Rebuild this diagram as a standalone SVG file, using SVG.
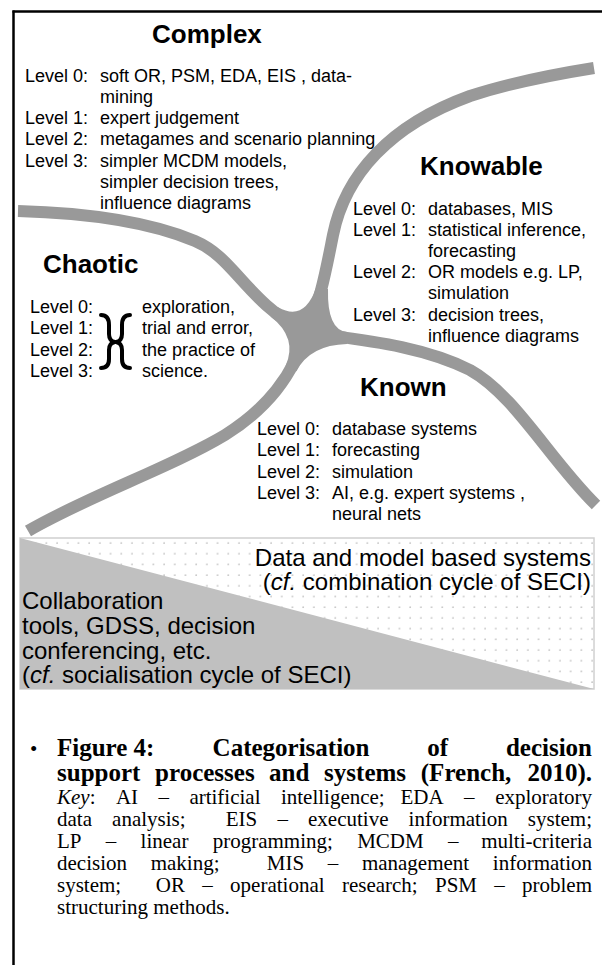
<svg xmlns="http://www.w3.org/2000/svg" width="602" height="965" viewBox="0 0 602 965">
  <style>
    .lvl { font-family: "Liberation Sans", Arial, sans-serif; font-size: 18px; fill: #000; }
    .head { font-family: "Liberation Sans", Arial, sans-serif; font-size: 26px; font-weight: bold; fill: #000; }
    .band { font-family: "Liberation Sans", Arial, sans-serif; font-size: 24px; fill: #000; }
    .cap { font-family: "Liberation Serif", "Times New Roman", serif; font-size: 21px; fill: #000; }
    .capb { font-family: "Liberation Serif", "Times New Roman", serif; font-size: 25px; font-weight: bold; fill: #000; }
    .curve { fill: none; stroke: #999999; stroke-width: 12; stroke-linecap: butt; }
    .brace { fill: none; stroke: #000; stroke-width: 4; stroke-linecap: round; stroke-linejoin: round; }
  </style>
  <defs>
    <pattern id="dots" x="20" y="538" width="10.7" height="10.7" patternUnits="userSpaceOnUse">
      <circle cx="5" cy="5" r="0.9" fill="#c4c4c4"/>
    </pattern>
  </defs>

  <rect width="602" height="965" fill="#ffffff"/>

  <!-- page frame: top and left rules -->
  <g id="frame" stroke="#000" stroke-width="2.5" fill="none">
    <line x1="12.5" y1="11.5" x2="602" y2="11.5"/>
    <line x1="13.5" y1="10.5" x2="13.5" y2="965"/>
  </g>

  <!-- the four boundaries between the domains -->
  <g id="connectors">
    <path class="curve" d="M18,211 C90,213 150,222 195,241 C235,258 245,300 305,332"/>
    <path class="curve" d="M305,332 C320,305 326,270 333,235 C345,175 390,125 470,96 C510,83 550,75 594,68"/>
    <path class="curve" d="M305,332 C360,340 420,345 470,370 C515,395 550,460 596,505"/>
    <path class="curve" d="M305,332 C295,375 265,410 225,435 C170,468 90,495 28,531"/>
  </g>

  <!-- central junction where the boundaries meet -->
  <g id="hub">
    <path fill="#999999" d="M316,288 L328,289 Q327,330 347,332 L347,344 Q310,345 296.4,371.2 L285.6,365.8 Q298,338 270.6,316.6 L278.2,307.2 Q304,322 316,288 Z"/>
  </g>

  <g id="complex">
    <text class="head" x="152" y="43">Complex</text>
    <text class="lvl" x="25" y="81.5">Level 0:</text>
    <text class="lvl" x="100" y="81.5">soft OR, PSM, EDA, EIS , data-</text>
    <text class="lvl" x="100" y="102.75">mining</text>
    <text class="lvl" x="25" y="124">Level 1:</text>
    <text class="lvl" x="100" y="124">expert judgement</text>
    <text class="lvl" x="25" y="145.25">Level 2:</text>
    <text class="lvl" x="100" y="145.25">metagames and scenario planning</text>
    <text class="lvl" x="25" y="166.5">Level 3:</text>
    <text class="lvl" x="100" y="166.5">simpler MCDM models,</text>
    <text class="lvl" x="100" y="187.75">simpler decision trees,</text>
    <text class="lvl" x="100" y="209">influence diagrams</text>
  </g>

  <g id="knowable">
    <text class="head" x="420" y="175">Knowable</text>
    <text class="lvl" x="353" y="214.5">Level 0:</text>
    <text class="lvl" x="428" y="214.5">databases, MIS</text>
    <text class="lvl" x="353" y="235.7">Level 1:</text>
    <text class="lvl" x="428" y="235.7">statistical inference,</text>
    <text class="lvl" x="428" y="256.9">forecasting</text>
    <text class="lvl" x="353" y="278.1">Level 2:</text>
    <text class="lvl" x="428" y="278.1">OR models e.g. LP,</text>
    <text class="lvl" x="428" y="299.3">simulation</text>
    <text class="lvl" x="353" y="320.5">Level 3:</text>
    <text class="lvl" x="428" y="320.5">decision trees,</text>
    <text class="lvl" x="428" y="341.7">influence diagrams</text>
  </g>

  <g id="chaotic">
    <text class="head" x="43" y="273">Chaotic</text>
    <text class="lvl" x="30" y="313">Level 0:</text>
    <text class="lvl" x="30" y="334.3">Level 1:</text>
    <text class="lvl" x="30" y="355.6">Level 2:</text>
    <text class="lvl" x="30" y="377">Level 3:</text>
    <path class="brace" d="M101,315 Q109,315 109,325 L109,334 Q109,341 115,342 Q109,343 109,350 L109,359 Q109,368 101,368"/>
    <path class="brace" d="M130,315 Q122,315 122,325 L122,334 Q122,341 116,342 Q122,343 122,350 L122,359 Q122,368 130,368"/>
    <text class="lvl" x="142" y="313">exploration,</text>
    <text class="lvl" x="142" y="334.3">trial and error,</text>
    <text class="lvl" x="142" y="355.6">the practice of</text>
    <text class="lvl" x="142" y="377">science.</text>
  </g>

  <g id="known">
    <text class="head" x="360" y="396">Known</text>
    <text class="lvl" x="257" y="435">Level 0:</text>
    <text class="lvl" x="332" y="435">database systems</text>
    <text class="lvl" x="257" y="456.25">Level 1:</text>
    <text class="lvl" x="332" y="456.25">forecasting</text>
    <text class="lvl" x="257" y="477.5">Level 2:</text>
    <text class="lvl" x="332" y="477.5">simulation</text>
    <text class="lvl" x="257" y="498.75">Level 3:</text>
    <text class="lvl" x="332" y="498.75">AI, e.g. expert systems ,</text>
    <text class="lvl" x="332" y="520">neural nets</text>
  </g>

  <!-- band of support systems: data/model based vs collaboration -->
  <g id="systems-band">
    <rect x="20" y="538" width="574" height="151" fill="#ffffff" stroke="#d0d0d0" stroke-width="1.5"/>
    <rect x="21" y="539" width="572" height="149" fill="url(#dots)"/>
    <polygon points="20,538 20,689 594,689" fill="#c0c0c0"/>
    <text class="band" x="591" y="565.5" text-anchor="end">Data and model based systems</text>
    <text class="band" x="591" y="589.5" text-anchor="end">(<tspan font-style="italic">cf.</tspan> combination cycle of SECI)</text>
    <text class="band" x="22" y="608.5">Collaboration</text>
    <text class="band" x="22" y="633.5">tools, GDSS, decision</text>
    <text class="band" x="22" y="658.5">conferencing, etc.</text>
    <text class="band" x="22" y="682.5">(<tspan font-style="italic">cf.</tspan> socialisation cycle of SECI)</text>
  </g>

  <g id="caption">
    <text class="cap" x="30" y="756">•</text>
    <text class="capb" y="756"><tspan x="57">Figure 4:</tspan><tspan x="212.6">Categorisation</tspan><tspan x="427.2">of</tspan><tspan x="592" text-anchor="end">decision</tspan></text>
    <text class="capb" y="781"><tspan x="57">support</tspan><tspan x="155.1">processes</tspan><tspan x="269">and</tspan><tspan x="324.1">systems</tspan><tspan x="420.8">(French,</tspan><tspan x="592" text-anchor="end">2010).</tspan></text>
    <text class="cap" y="804"><tspan x="57" font-style="italic">Key</tspan><tspan>:</tspan><tspan x="115.9">AI</tspan><tspan x="158.5">–</tspan><tspan x="189.4">artificial</tspan><tspan x="280.9">intelligence;</tspan><tspan x="400.5">EDA</tspan><tspan x="464.1">–</tspan><tspan x="592" text-anchor="end">exploratory</tspan></text>
    <text class="cap" y="826"><tspan x="57">data</tspan><tspan x="112.1">analysis;</tspan><tspan x="225.8">EIS</tspan><tspan x="277.4">–</tspan><tspan x="308">executive</tspan><tspan x="408.6">information</tspan><tspan x="592" text-anchor="end">system;</tspan></text>
    <text class="cap" y="848"><tspan x="57">LP</tspan><tspan x="105.8">–</tspan><tspan x="140.6">linear</tspan><tspan x="212.7">programming;</tspan><tspan x="357.2">MCDM</tspan><tspan x="448">–</tspan><tspan x="592" text-anchor="end">multi-criteria</tspan></text>
    <text class="cap" y="870"><tspan x="57">decision</tspan><tspan x="150.7">making;</tspan><tspan x="266.8">MIS</tspan><tspan x="327.8">–</tspan><tspan x="361.9">management</tspan><tspan x="592" text-anchor="end">information</tspan></text>
    <text class="cap" y="892"><tspan x="57">system;</tspan><tspan x="155.8">OR</tspan><tspan x="202.3">–</tspan><tspan x="230.1">operational</tspan><tspan x="341.9">research;</tspan><tspan x="435">PSM</tspan><tspan x="494.3">–</tspan><tspan x="592" text-anchor="end">problem</tspan></text>
    <text class="cap" x="57" y="914">structuring methods.</text>
  </g>
</svg>
